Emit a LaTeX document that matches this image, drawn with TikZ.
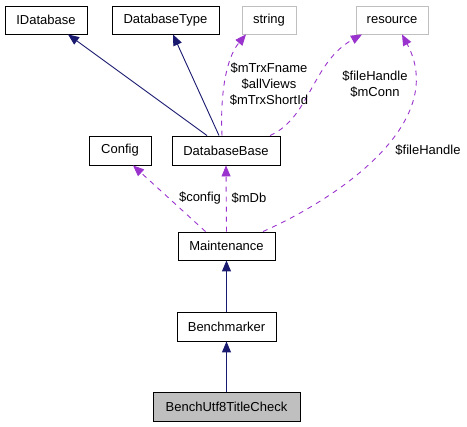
\documentclass[tikz,border=0pt]{standalone}
\usepackage{fontspec}
\setmainfont{Liberation Sans}
\usetikzlibrary{arrows.meta}
\definecolor{navy}{HTML}{191970}
\definecolor{orchid}{HTML}{9A32CD}
\definecolor{lgray}{HTML}{BFBFBF}
\begin{document}
\begin{tikzpicture}[x=1pt,y=-1pt,
  box/.style={draw=black,line width=0.9pt,fill=white,minimum height=28pt,inner sep=0pt,font=\fontsize{13}{15}\selectfont},
  gbox/.style={box,draw=lgray},
  inh/.style={navy,line width=0.9pt,-{Triangle[length=11pt,width=9pt]}},
  use/.style={orchid,line width=0.9pt,dash pattern=on 5pt off 5pt,-{Triangle[length=11pt,width=9pt]}},
  lab/.style={font=\fontsize{13}{16}\selectfont,align=center,inner sep=0pt}]
\useasboundingbox (0,0) rectangle (467,427);
\node[box,minimum width=82pt] (idb) at (46,20) {IDatabase};
\node[box,minimum width=107pt] (dbt) at (165.5,20) {DatabaseType};
\node[gbox,minimum width=54pt] (str) at (269,20) {string};
\node[gbox,minimum width=72pt] (res) at (392,20) {resource};
\node[box,minimum width=62pt,minimum height=29pt] (cfg) at (120,150.5) {Config};
\node[box,minimum width=108pt,minimum height=29pt] (dbb) at (226,150.5) {DatabaseBase};
\node[box,minimum width=97pt] (mnt) at (226.5,246) {Maintenance};
\node[box,minimum width=99pt,minimum height=29pt] (bmk) at (226.5,326.5) {Benchmarker};
\node[box,fill=lgray,minimum width=147pt,minimum height=29pt] (buc) at (226.5,406.5) {BenchUtf8TitleCheck};

\draw[inh] ([xshift=-19pt]dbb.north) -- ([xshift=22pt]idb.south);
\draw[inh] ([xshift=-7pt]dbb.north) -- ([xshift=7.5pt]dbt.south);
\draw[use] ([xshift=-4pt]dbb.north) .. controls (220,95) and (226,58) .. ([xshift=-23pt]str.south);
\draw[use] ([xshift=44pt]dbb.north) .. controls (310,118) and (312,62) .. ([xshift=-30pt]res.south);
\draw[use] ([xshift=36.5pt]mnt.north) .. controls (345,195) and (448,120) .. ([xshift=10pt]res.south);
\draw[use] ([xshift=-21pt]mnt.north) -- ([xshift=13pt]cfg.south);
\draw[use] (mnt.north) -- (dbb.south);
\draw[inh] (bmk.north) -- (mnt.south);
\draw[inh] (buc.north) -- (bmk.south);

\node[lab] (l1) at (269,84) {\$mTrxFname\\\$allViews\\\$mTrxShortId};
\node[lab] (l2) at (375,84) {\$fileHandle\\\$mConn};
\node[lab] (l3) at (428,150) {\$fileHandle};
\node[lab] (l4) at (200,198) {\$config};
\node[lab] (l5) at (249,198) {\$mDb};
\end{tikzpicture}
\end{document}
